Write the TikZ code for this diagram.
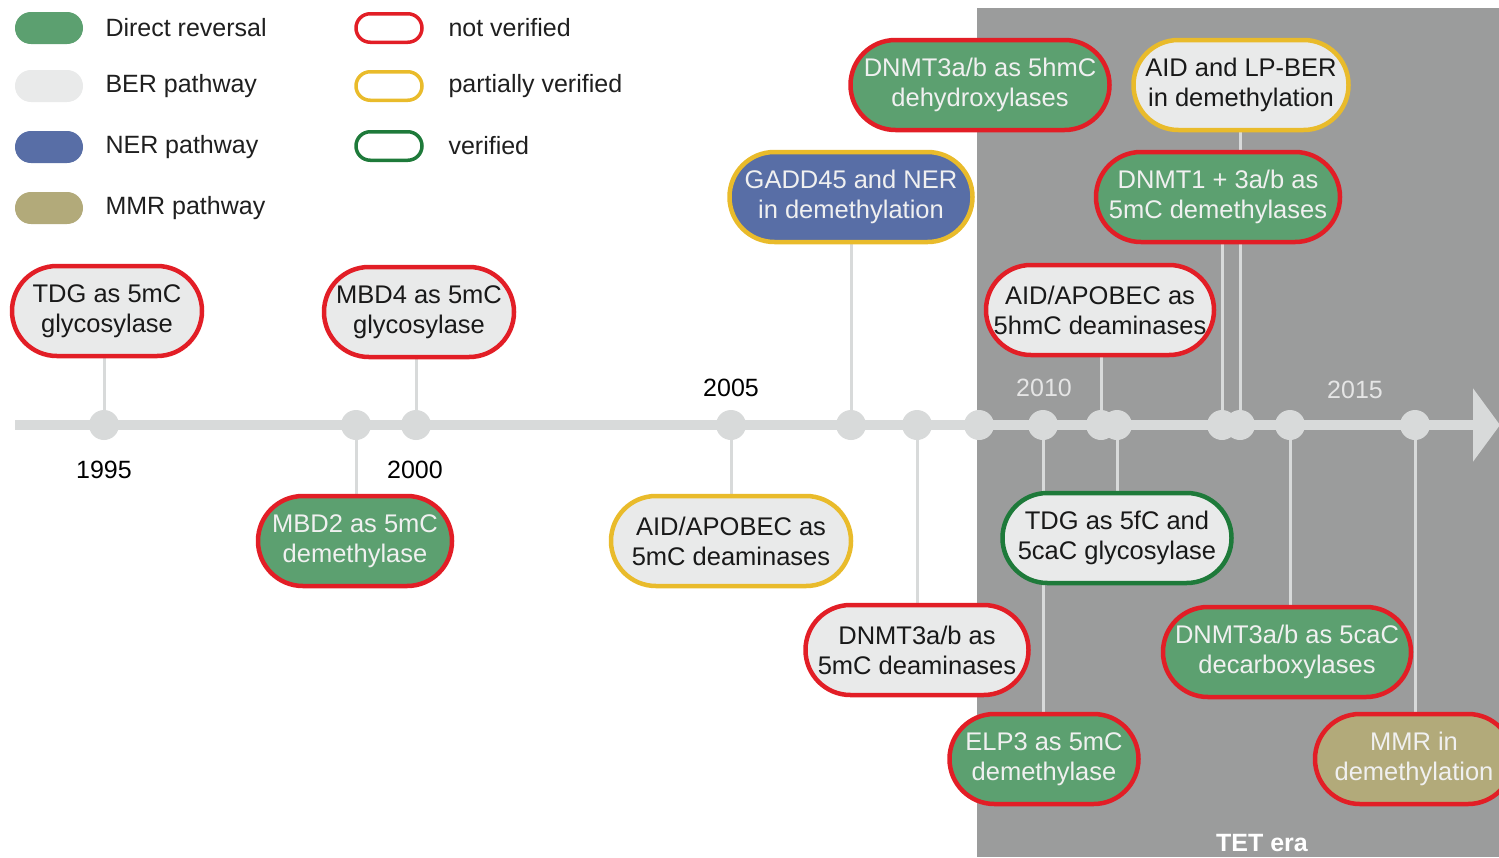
\documentclass[tikz,border=0pt]{standalone}
\usepackage{fontspec}
\setmainfont{Liberation Sans}
\usetikzlibrary{arrows.meta,backgrounds}
\definecolor{dirfill}{RGB}{92,160,112}
\definecolor{berfill}{RGB}{233,234,234}
\definecolor{nerfill}{RGB}{88,110,166}
\definecolor{mmrfill}{RGB}{178,170,122}
\definecolor{notv}{RGB}{226,30,38}
\definecolor{partv}{RGB}{233,187,43}
\definecolor{ver}{RGB}{30,122,58}
\definecolor{tetbg}{RGB}{155,156,156}
\definecolor{axis}{RGB}{216,218,218}
\tikzset{
  event/.style={rectangle,rounded corners=44.9pt,minimum height=90pt,line width=4.5pt,
    align=center,inner xsep=2pt,font=\fontsize{25.5}{30}\selectfont},
  direct/.style={event,fill=dirfill,text=white!94!black},
  ber/.style={event,fill=berfill,text=black!90},
  ner/.style={event,fill=nerfill,text=white!94!black},
  mmr/.style={event,fill=mmrfill,text=white!94!black},
  notver/.style={draw=notv},
  partver/.style={draw=partv},
  verif/.style={draw=ver},
  yeardot/.style={circle,fill=axis,minimum size=30pt,inner sep=0pt},
  stem/.style={draw=axis,line width=3pt},
  year/.style={font=\fontsize{25}{29}\selectfont},
  swatch/.style={rectangle,rounded corners=15.9pt,minimum width=68pt,minimum height=32pt},
  ring/.style={rectangle,rounded corners=14.2pt,minimum width=66pt,minimum height=28.5pt,line width=3.5pt},
  legtext/.style={anchor=west,font=\fontsize{25}{29}\selectfont,text=black!88},
}

\begin{document}
\begin{tikzpicture}[x=1pt,y=-1pt]
\path[use as bounding box,clip] (0,0) rectangle (1499,857);

% --- legend ---
\node[swatch,fill=dirfill] (kdir) at (49,28) {};
\node[swatch,fill=berfill] (kber) at (49,86) {};
\node[swatch,fill=nerfill] (kner) at (49,147) {};
\node[swatch,fill=mmrfill] (kmmr) at (49,208) {};
\node[legtext] (tdir) at (102,28) {Direct reversal};
\node[legtext] (tber) at (102,86) {BER pathway};
\node[legtext] (tner) at (102,147) {NER pathway};
\node[legtext] (tmmr) at (102,208) {MMR pathway};
\node[ring,notver] (knot) at (389,28) {};
\node[ring,partver] (kpart) at (389,86) {};
\node[ring,verif] (kver) at (389,146) {};
\node[legtext] (tnot) at (445,28) {not verified};
\node[legtext] (tpart) at (445,86) {partially verified};
\node[legtext] (tver) at (445,146) {verified};

% --- TET era shading and time axis ---
\begin{scope}[on background layer]
  \fill[tetbg] (977,8) rectangle (1499,857);
  \coordinate (t0) at (15,425);
  \coordinate (t1) at (1500,425);
  \draw[axis,line width=10pt,-{Triangle[length=27pt,width=72pt]}] (t0) -- (t1);
\end{scope}
\node[font=\fontsize{25}{29}\selectfont\bfseries,text=white] (tet) at (1262,843) {TET era};

% years
\node[year] (y95) at (104,470) {1995};
\node[year] (y00) at (415,470) {2000};
\node[year] (y05) at (731,388) {2005};
\node[year,text=black!10] (y10) at (1044,388) {2010};
\node[year,text=black!10] (y15) at (1355,390) {2015};

% dots on the axis
\node[yeardot] (d1) at (104,425) {};
\node[yeardot] (d2) at (356,425) {};
\node[yeardot] (d3) at (416,425) {};
\node[yeardot] (d4) at (731,425) {};
\node[yeardot] (d5) at (851,425) {};
\node[yeardot] (d6) at (917,425) {};
\node[yeardot] (d7) at (979,425) {};
\node[yeardot] (d8) at (1043,425) {};
\node[yeardot] (d9) at (1101,425) {};
\node[yeardot] (d10) at (1117,425) {};
\node[yeardot] (d11) at (1222,425) {};
\node[yeardot] (d12) at (1240,425) {};
\node[yeardot] (d13) at (1290,425) {};
\node[yeardot] (d14) at (1415,425) {};

% --- events ---
\node[ber,notver,minimum width=190pt] (tdgA) at (107,311) {TDG as 5mC\\glycosylase};
\node[ber,notver,minimum width=190pt] (mbd4) at (419,312) {MBD4 as 5mC\\glycosylase};
\node[direct,notver,minimum width=194pt] (mbd2) at (355,541) {MBD2 as 5mC\\demethylase};
\node[ber,partver,minimum width=240pt] (aidA) at (731,541) {AID/APOBEC as\\5mC deaminases};
\node[ner,partver,minimum width=243pt] (gadd) at (851,197) {GADD45 and NER\\in demethylation};
\node[direct,notver,minimum width=259pt] (dnmtH) at (980,85) {DNMT3a/b as 5hmC\\dehydroxylases};
\node[ber,partver,minimum width=215pt] (lpber) at (1241,85) {AID and LP-BER\\in demethylation};
\node[direct,notver,minimum width=244pt] (dnmt1) at (1218,197) {DNMT1 + 3a/b as\\5mC demethylases};
\node[ber,notver,minimum width=228pt] (aidH) at (1100,310) {AID/APOBEC as\\5hmC deaminases};
\node[ber,notver,minimum width=223pt] (dnmtD) at (917,650) {DNMT3a/b as\\5mC deaminases};
\node[ber,verif,minimum width=229pt] (tdgF) at (1117,538) {TDG as 5fC and\\5caC glycosylase};
\node[direct,notver,minimum width=189pt] (elp3) at (1044,759) {ELP3 as 5mC\\demethylase};
\node[direct,notver,minimum width=248pt] (dnmtC) at (1287,652) {DNMT3a/b as 5caC\\decarboxylases};
\node[mmr,notver,minimum width=198pt] (mmrN) at (1414,759) {MMR in\\demethylation};

% stems from axis to events
\begin{scope}[on background layer]
  \draw[stem] (d1) -- (d1 |- tdgA.south);
  \draw[stem] (d2) -- (d2 |- mbd2.north);
  \draw[stem] (d3) -- (d3 |- mbd4.south);
  \draw[stem] (d4) -- (d4 |- aidA.north);
  \draw[stem] (d5) -- (d5 |- gadd.south);
  \draw[stem] (d6) -- (d6 |- dnmtD.north);
  \draw[stem] (d8) -- (d8 |- elp3.north);
  \draw[stem] (d9) -- (d9 |- aidH.south);
  \draw[stem] (d10) -- (d10 |- tdgF.north);
  \draw[stem] (d11) -- (d11 |- dnmt1.south);
  \draw[stem] (d12) -- (d12 |- lpber.south);
  \draw[stem] (d13) -- (d13 |- dnmtC.north);
  \draw[stem] (d14) -- (d14 |- mmrN.north);
\end{scope}
\end{tikzpicture}
\end{document}
